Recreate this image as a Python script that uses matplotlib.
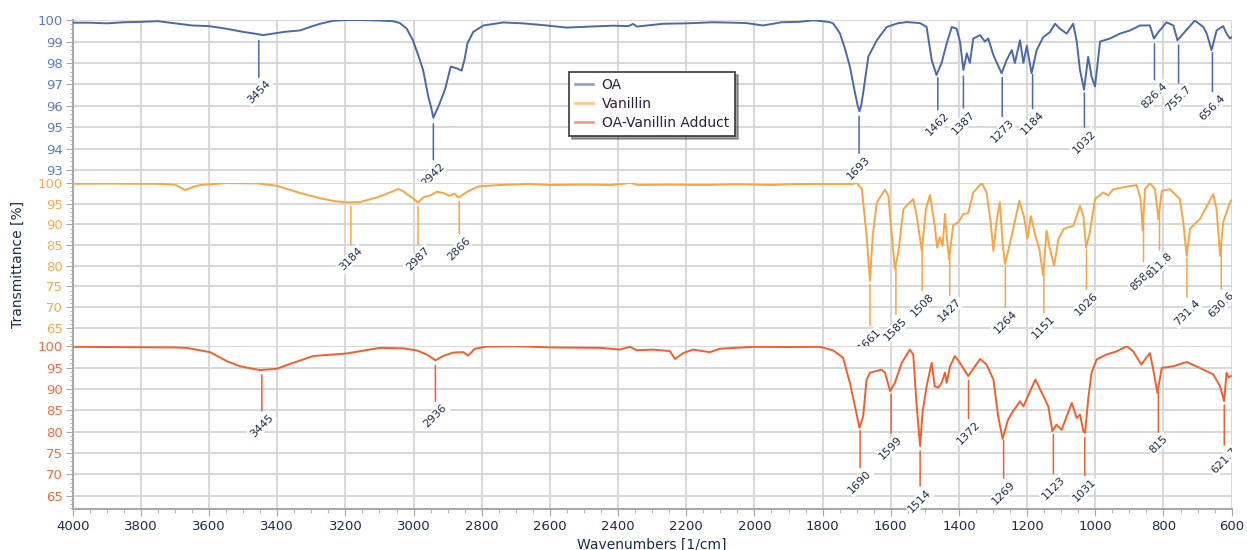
import numpy as np
import matplotlib
matplotlib.use("Agg")
import matplotlib.pyplot as plt
from matplotlib.lines import Line2D
from matplotlib.ticker import MultipleLocator
from matplotlib.transforms import Bbox, TransformedBbox

# ── spectra (wavenumber 1/cm, transmittance %) ──
oa_wn = [4000, 3950, 3900, 3850, 3800, 3750, 3700, 3650, 3600, 3550, 3500, 3470, 3442, 3420,
         3380, 3333, 3300, 3274, 3236, 3200, 3150, 3100, 3060, 3040, 3020, 3002, 2985, 2972,
         2957, 2948, 2942, 2935, 2927, 2908, 2891, 2873, 2859, 2850, 2842, 2825, 2795, 2737,
         2680, 2609, 2551, 2480, 2415, 2370, 2356, 2345, 2268, 2200, 2122, 2060, 2023, 1975,
         1920, 1870, 1828, 1800, 1778, 1769, 1755, 1749, 1735, 1720, 1705, 1697, 1692, 1687,
         1681, 1666, 1641, 1612, 1580, 1553, 1514, 1495, 1480, 1466, 1451, 1436, 1421, 1407,
         1397, 1387, 1377, 1368, 1358, 1338, 1324, 1314, 1299, 1275, 1260, 1245, 1236, 1221,
         1211, 1201, 1187, 1172, 1153, 1133, 1118, 1104, 1084, 1065, 1055, 1045, 1033, 1021,
         1011, 1001, 986, 957, 928, 898, 869, 840, 828, 815, 791, 771, 759, 742, 708, 683,
         673, 659, 644, 625, 615, 605, 600]
oa_t = [99.88, 99.88, 99.85, 99.9, 99.92, 99.95, 99.85, 99.75, 99.72, 99.6, 99.45, 99.38, 99.3, 99.35,
        99.45, 99.52, 99.7, 99.83, 99.97, 100.0, 100.0, 99.98, 99.95, 99.86, 99.6, 99.06, 98.3, 97.67,
        96.44, 95.9, 95.44, 95.7, 95.97, 96.75, 97.83, 97.75, 97.64, 98.2, 98.91, 99.45, 99.75, 99.89,
        99.85, 99.75, 99.65, 99.7, 99.74, 99.72, 99.82, 99.7, 99.83, 99.85, 99.9, 99.88, 99.86, 99.75,
        99.9, 99.92, 99.99, 99.95, 99.9, 99.84, 99.52, 99.37, 98.7, 97.83, 96.6, 96.0, 95.74, 96.0,
        96.6, 98.29, 99.06, 99.68, 99.85, 99.91, 99.86, 99.68, 98.14, 97.44, 98.0, 98.91, 99.68, 99.6,
        99.0, 97.67, 98.45, 98.0, 99.14, 99.3, 99.0, 99.14, 98.37, 97.52, 98.14, 98.6, 98.0, 99.06,
        98.0, 98.8, 97.52, 98.6, 99.2, 99.44, 99.83, 99.6, 99.37, 99.83, 99.06, 97.67, 96.75, 98.29,
        97.37, 96.9, 99.0, 99.14, 99.37, 99.52, 99.75, 99.75, 99.14, 99.44, 99.9, 99.75, 99.06, 99.37, 99.98, 99.68,
        99.37, 98.6, 99.52, 99.72, 99.37, 99.14, 99.2]

van_wn = [4000, 3900, 3800, 3754, 3700, 3671, 3640, 3626, 3548, 3460, 3402, 3333, 3274, 3230,
          3196, 3157, 3108, 3060, 3045, 3030, 3020, 3000, 2987, 2970, 2950, 2932, 2910, 2895,
          2880, 2868, 2840, 2809, 2750, 2661, 2600, 2500, 2420, 2365, 2340, 2250, 2150, 2050,
          1950, 1900, 1808, 1711, 1700, 1685, 1671, 1661, 1653, 1641, 1617, 1607, 1597, 1588,
          1578, 1563, 1534, 1524, 1509, 1497, 1485, 1471, 1464, 1456, 1448, 1441, 1436, 1429,
          1417, 1402, 1387, 1373, 1358, 1333, 1319, 1307, 1299, 1289, 1280, 1272, 1265, 1245,
          1223, 1209, 1199, 1189, 1176, 1164, 1153, 1143, 1135, 1121, 1108, 1093, 1064, 1045,
          1035, 1027, 1016, 1001, 977, 962, 947, 908, 879, 867, 861, 854, 840, 825, 815, 805,
          781, 752, 742, 732, 722, 693, 654, 644, 634, 625, 605, 600]
van_t = [99.8, 99.85, 99.8, 99.8, 99.6, 98.3, 99.2, 99.5, 99.97, 99.9, 99.35, 97.58, 96.3, 95.6,
         95.3, 95.4, 96.5, 98.0, 98.55, 98.0, 97.3, 96.2, 95.3, 96.6, 97.0, 97.9, 97.5, 96.9,
         97.4, 96.5, 98.0, 99.2, 99.5, 99.76, 99.5, 99.6, 99.5, 100.0, 99.5, 99.6, 99.5, 99.7,
         99.5, 99.7, 99.76, 99.76, 100.0, 98.5, 87.3, 76.4, 87.3, 95.3, 98.4, 96.9, 87.3, 79.2,
         83.2, 93.7, 96.1, 92.1, 83.6, 93.7, 97.1, 89.7, 84.4, 86.9, 84.8, 92.5, 87.3, 81.6,
         89.8, 90.5, 92.5, 92.7, 97.7, 100.0, 97.7, 90.5, 83.6, 91.3, 95.3, 85.6, 80.4, 87.3,
         95.7, 91.8, 86.5, 92.0, 87.3, 84.0, 77.6, 88.5, 84.7, 80.0, 86.5, 88.9, 89.7, 94.5,
         92.1, 84.4, 88.1, 96.1, 97.7, 97.0, 98.5, 99.1, 99.5, 96.1, 88.5, 98.5, 100.0, 98.5, 91.3, 98.1,
         98.5, 96.1, 90.5, 82.4, 89.0, 91.3, 97.3, 93.5, 82.4, 90.5, 95.3, 95.8]

add_wn = [4000, 3900, 3800, 3700, 3665, 3597, 3548, 3509, 3451, 3402, 3353, 3294, 3196, 3099,
          3030, 2990, 2960, 2936, 2910, 2884, 2854, 2840, 2820, 2786, 2707, 2590, 2450, 2395,
          2365, 2346, 2297, 2248, 2233, 2209, 2180, 2131, 2101, 2004, 1900, 1808, 1769, 1740,
          1720, 1705, 1692, 1681, 1671, 1661, 1627, 1617, 1602, 1588, 1568, 1544, 1534, 1524,
          1514, 1507, 1495, 1480, 1471, 1461, 1451, 1441, 1436, 1426, 1412, 1397, 1373, 1338,
          1319, 1299, 1285, 1272, 1256, 1241, 1221, 1211, 1176, 1157, 1138, 1126, 1114, 1099,
          1069, 1055, 1045, 1035, 1030, 1021, 1011, 996, 967, 937, 908, 889, 865, 840, 830,
          818, 805, 771, 732, 693, 654, 634, 622, 615, 609, 602]
add_t = [99.85, 99.8, 99.75, 99.7, 99.6, 98.6, 96.5, 95.3, 94.4, 94.7, 96.1, 97.7, 98.3, 99.6,
         99.5, 99.0, 98.0, 96.7, 97.8, 98.5, 98.6, 97.8, 99.4, 99.9, 100.0, 99.7, 99.6, 99.2,
         99.85, 99.05, 99.2, 98.85, 97.0, 98.4, 99.2, 98.6, 99.4, 99.85, 99.8, 99.85, 99.0, 97.3,
         91.4, 85.9, 80.9, 83.6, 92.2, 93.8, 94.5, 93.8, 89.5, 91.4, 96.1, 99.2, 98.0, 85.9,
         76.6, 84.4, 90.6, 96.1, 90.6, 90.3, 91.4, 93.8, 91.4, 95.3, 97.7, 96.1, 93.0, 97.0,
         95.7, 92.2, 83.6, 78.3, 82.8, 84.8, 87.1, 85.9, 92.2, 89.1, 85.9, 80.1, 81.6, 80.4,
         86.7, 83.2, 84.0, 80.1, 79.7, 87.5, 93.8, 96.9, 98.05, 98.8, 100.0, 98.8, 95.7, 98.4, 94.5,
         89.1, 94.9, 95.3, 96.3, 94.9, 93.4, 90.6, 87.1, 93.8, 92.7, 93.0]

# peak labels
oa_peaks = ["3454", "2942", "1693", "1462", "1387", "1273", "1184", "1032", "826.4", "755.7", "656.4"]
van_peaks = ["3184", "2987", "2866", "1661", "1585", "1508", "1427", "1264", "1151", "1026",
             "858.6", "811.8", "731.4", "630.6"]
add_peaks = ["3445", "2936", "1690", "1599", "1514", "1372", "1269", "1123", "1031", "815", "621.7"]

# label layout: distance (px) from curve to stem end, and gap above stem
oa_drops = [43, 42, 43, 38, 38, 45, 40, 40, 42, 44, 45]
van_drops = [42, 42, 37, 45, 50, 43, 42, 45, 46, 43, 45, 40, 43, 46]
add_drops = [41, 41, 42, 44, 40, 43, 43, 44, 43, 45, 45]
gaps = [6, 4, 5]

names = ["OA", "Vanillin", "OA-Vanillin Adduct"]
line_colors = ["#4a69ab", "#f6a547", "#f0602f"]
tick_colors = ["#5b7cc2", "#f7a94e", "#f36a45"]
ylims = [(92.4, 100.02), (60.6, 100.02), (61.8, 100.02)]
ymajor = [1, 5, 5]
yminor = [0.2, 1, 1]
TXT = "#1c2b4a"
GRID = "#d6d6d6"
AXC = "#a8a8a8"
RIGHT = 0.9877

plt.rcParams.update({"font.family": "DejaVu Sans", "font.size": 9.5})

fig, axes = plt.subplots(3, 1, sharex=True, figsize=(12.47, 5.5), dpi=100)
fig.subplots_adjust(left=0.0583, right=RIGHT, top=0.9642, bottom=0.074, hspace=0)
# peak labels are cut only at the right edge of the plot
clip = TransformedBbox(Bbox([[0, 0], [RIGHT, 1]]), fig.transFigure)

data = [(oa_wn, oa_t, oa_peaks, oa_drops),
        (van_wn, van_t, van_peaks, van_drops),
        (add_wn, add_t, add_peaks, add_drops)]

for k, ax in enumerate(axes):
    wn, t, peaks, drops = data[k]
    wn = np.asarray(wn, float); t = np.asarray(t, float)
    c = line_colors[k]
    ax.plot(wn, t, color=c, lw=1.4, zorder=3)
    ax.set_xlim(4000, 600)
    ax.set_ylim(*ylims[k])
    ax.xaxis.set_major_locator(MultipleLocator(200))
    ax.xaxis.set_minor_locator(MultipleLocator(50))
    ax.yaxis.set_major_locator(MultipleLocator(ymajor[k]))
    ax.yaxis.set_minor_locator(MultipleLocator(yminor[k]))
    ax.grid(True, which="major", color=GRID, lw=1.3)
    ax.set_axisbelow(True)
    for s in ("top", "right"):
        ax.spines[s].set_visible(False)
    ax.spines["left"].set_color(AXC); ax.spines["left"].set_linewidth(1.5)
    if k < 2:
        ax.spines["bottom"].set_visible(False)
        ax.tick_params(axis="x", which="both", bottom=False, labelbottom=False)
    else:
        ax.spines["bottom"].set_color(AXC); ax.spines["bottom"].set_linewidth(1.5)
        ax.tick_params(axis="x", which="major", length=5, color=AXC, labelcolor=TXT, labelsize=9.5, pad=3)
        ax.tick_params(axis="x", which="minor", length=3, color=AXC)
    ax.tick_params(axis="y", which="major", length=5, color=AXC, labelcolor=tick_colors[k], labelsize=9.5, pad=2)
    ax.tick_params(axis="y", which="minor", length=2.5, color=AXC)

    g = gaps[k]
    for lab, d in zip(peaks, drops):
        pk = float(lab)
        yt = np.interp(pk, wn[::-1], t[::-1])
        ax.annotate("", xy=(pk, yt), xytext=(0, -d), textcoords="offset pixels",
                    arrowprops=dict(arrowstyle="-", color=c, lw=1.1, shrinkA=0, shrinkB=g * 0.72),
                    zorder=4)
        a = ax.annotate(lab, xy=(pk, yt), xytext=(0, -(d + 1)), textcoords="offset pixels",
                        rotation=45, ha="center", va="top", fontsize=8, color=TXT, zorder=6,
                        bbox=dict(boxstyle="square,pad=0.12", fc="white", ec="none"))
        a.set_clip_on(True)
        a.set_clip_box(clip)

axes[2].set_xlabel("Wavenumbers [1/cm]", fontsize=10, color=TXT, labelpad=3)
fig.text(0.0144, 0.519, "Transmittance [%]", rotation=90, ha="center", va="center", fontsize=10, color=TXT)

handles = [Line2D([], [], color=c, lw=2, alpha=0.6) for c in line_colors]
leg = fig.legend(handles, names, loc="upper left", bbox_to_anchor=(569 / 1247, 1 - 72 / 550),
                 borderaxespad=0, fontsize=10, frameon=True, fancybox=False, shadow=True,
                 edgecolor="#3a3a3a", handlelength=1.3, handletextpad=0.6, labelspacing=0.35,
                 borderpad=0.45)
leg.get_frame().set_linewidth(1.2)
for txt in leg.get_texts():
    txt.set_color("#2a2040")

fig.savefig("out.png")
